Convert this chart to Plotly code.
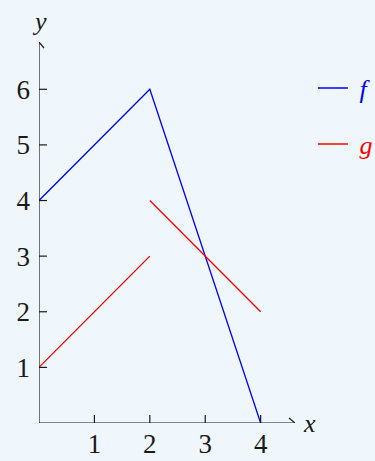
import plotly.graph_objects as go

# data
f_x = [0, 2, 4]
f_y = [4, 6, 0]
g_x = [0, 2, None, 2, 4]
g_y = [1, 3, None, 4, 2]
x_ticks = [1, 2, 3, 4]
y_ticks = [1, 2, 3, 4, 5, 6]

bg = "#eff7fc"
font_family = "Liberation Serif, DejaVu Serif, serif"
ink = "#1a1a1a"

fig = go.Figure()
fig.add_trace(go.Scatter(x=f_x, y=f_y, mode="lines", line=dict(color="#0000ff", width=1.3),
                         name="&nbsp;<i>f</i>", legend="legend", showlegend=True))
fig.add_trace(go.Scatter(x=g_x, y=g_y, mode="lines", line=dict(color="#ff0000", width=1.3),
                         name="&nbsp;<i>g</i>", legend="legend2", showlegend=True))

xmax, ymax = 4.62, 6.85
axis_line = dict(color=ink, width=1.2)
shapes = []
# axis lines
shapes.append(dict(type="line", xref="x", yref="y", x0=0, x1=xmax, y0=0, y1=0, line=axis_line))
shapes.append(dict(type="line", xref="x", yref="y", x0=0, x1=0, y0=0, y1=ymax, line=axis_line))
# arrow heads (two short strokes each)
for dy in (-5, 5):
    shapes.append(dict(type="line", xref="x", yref="y", xsizemode="pixel", ysizemode="pixel",
                       xanchor=xmax, yanchor=0, x0=-6, y0=dy, x1=0, y1=0, line=axis_line))
for dx in (-5, 5):
    shapes.append(dict(type="line", xref="x", yref="y", xsizemode="pixel", ysizemode="pixel",
                       xanchor=0, yanchor=ymax, x0=dx, y0=-6, x1=0, y1=0, line=axis_line))
# tick marks crossing the axes
for t in x_ticks:
    shapes.append(dict(type="line", xref="x", yref="y", ysizemode="pixel", yanchor=0,
                       x0=t, x1=t, y0=-8, y1=8, line=axis_line))
for t in y_ticks:
    shapes.append(dict(type="line", xref="x", yref="y", xsizemode="pixel", xanchor=0,
                       x0=-8, x1=8, y0=t, y1=t, line=axis_line))

fig.update_layout(
    width=375, height=461,
    margin=dict(l=39, r=80, t=42, b=38, autoexpand=False),
    paper_bgcolor=bg, plot_bgcolor=bg,
    font=dict(family=font_family, size=22, color=ink),
    showlegend=True,
    shapes=shapes,
    xaxis=dict(range=[0, xmax], showgrid=False, zeroline=False, showline=False,
               tickvals=x_ticks, ticks="", ticklabelstandoff=2,
               tickfont=dict(family=font_family, size=27, color=ink)),
    yaxis=dict(range=[0, ymax], showgrid=False, zeroline=False, showline=False,
               tickvals=y_ticks, ticks="", ticklabelstandoff=8,
               tickfont=dict(family=font_family, size=27, color=ink)),
    legend=dict(x=1.07, y=0.879, xanchor="left", yanchor="middle", bgcolor="rgba(0,0,0,0)",
                visible=True, font=dict(size=26, color="#0000ff")),
    legend2=dict(x=1.07, y=0.732, xanchor="left", yanchor="middle", bgcolor="rgba(0,0,0,0)",
                 visible=True, font=dict(size=26, color="#ff0000")),
    annotations=[
        dict(text="<i>x</i>", x=xmax, y=0, xref="x", yref="y", xanchor="left", yanchor="middle",
             xshift=6, showarrow=False, font=dict(size=26)),
        dict(text="<i>y</i>", x=0, y=ymax, xref="x", yref="y", xanchor="center", yanchor="bottom",
             yshift=4, showarrow=False, font=dict(size=26)),
    ],
)

fig.write_html("out.html", config={"displayModeBar": False},
               post_script="document.body.style.margin='0';document.body.style.background='%s';" % bg)
